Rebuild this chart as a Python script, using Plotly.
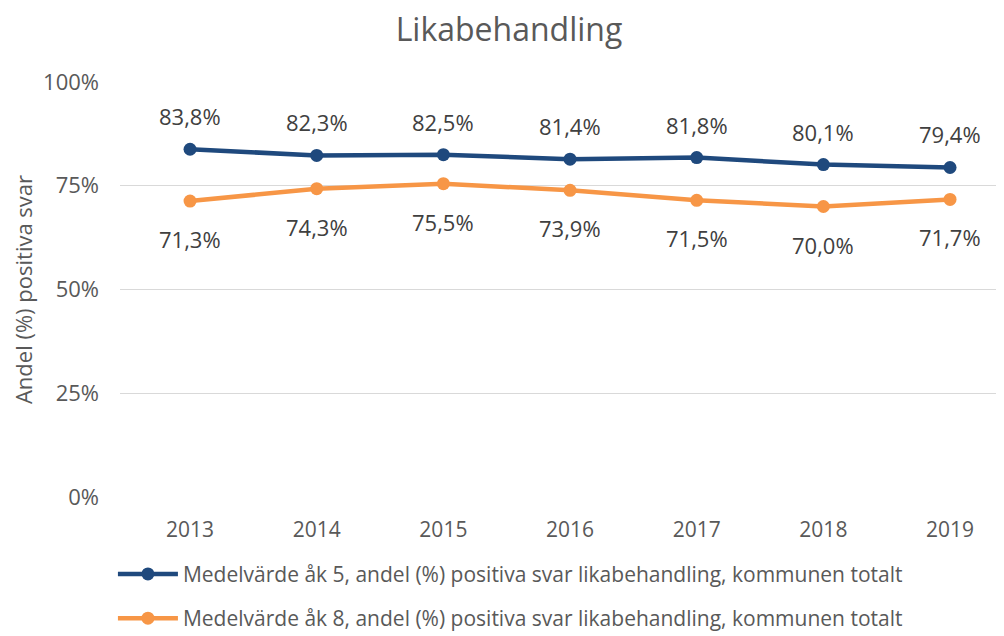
import plotly.graph_objects as go

years = ["2013", "2014", "2015", "2016", "2017", "2018", "2019"]
ak5 = [83.8, 82.3, 82.5, 81.4, 81.8, 80.1, 79.4]
ak8 = [71.3, 74.3, 75.5, 73.9, 71.5, 70.0, 71.7]
name5 = "Medelvärde åk 5, andel (%) positiva svar likabehandling, kommunen totalt"
name8 = "Medelvärde åk 8, andel (%) positiva svar likabehandling, kommunen totalt"
ytickvals = [0, 25, 50, 75, 100]
yticktext = ["0%", "25%", "50%", "75%", "100%"]

blue = "#1F497D"
orange = "#F79646"
font = "Open Sans"
xs = list(range(len(years)))

fig = go.Figure()
fig.add_trace(go.Scatter(x=xs, y=ak5, name=name5, mode="lines+markers",
                         line=dict(color=blue, width=4.5), marker=dict(size=13, color=blue),
                         legendgroup="a"))
fig.add_trace(go.Scatter(x=xs, y=ak8, name=name8, mode="lines+markers",
                         line=dict(color=orange, width=4.5), marker=dict(size=13, color=orange),
                         legendgroup="b"))

def fmt(v):
    return f"{v:.1f}".replace(".", ",") + "%"

for x, v in zip(xs, ak5):
    fig.add_annotation(x=x, y=v, text=fmt(v), showarrow=False, yshift=33,
                       font=dict(size=22, color="#404040", family=font))
for x, v in zip(xs, ak8):
    fig.add_annotation(x=x, y=v, text=fmt(v), showarrow=False, yshift=-38,
                       font=dict(size=22, color="#404040", family=font))

fig.update_layout(
    width=996, height=628,
    margin=dict(l=112, r=0, t=74, b=139, autoexpand=False),
    paper_bgcolor="white", plot_bgcolor="white",
    font=dict(family=font, color="#595959"),
    title=dict(text="Likabehandling", x=0.503, xanchor="center", y=0.965, yref="container",
               yanchor="middle", font=dict(size=32, color="#595959", family=font)),
    showlegend=True,
    legend=dict(orientation="v", x=-0.008, xanchor="left", y=0.131, yref="container",
                yanchor="top",
                font=dict(size=21, color="#595959", family=font), itemwidth=60,
                tracegroupgap=14, bgcolor="rgba(0,0,0,0)"),
    xaxis=dict(range=[-0.553, 6.426], tickvals=xs, ticktext=years, showgrid=False,
               zeroline=False, showline=False, ticks="", ticklabelstandoff=18,
               tickfont=dict(size=21, color="#595959", family=font)),
    yaxis=dict(range=[0, 100], tickvals=ytickvals, ticktext=yticktext, showgrid=True,
               gridcolor="#D9D9D9", gridwidth=1.3, zeroline=False, showline=False,
               ticks="", ticklabelstandoff=20,
               tickfont=dict(size=22, color="#595959", family=font),
               title=dict(text="Andel (%) positiva svar", standoff=12,
                          font=dict(size=22, color="#595959", family=font))),
)

fig.write_html("out.html")
